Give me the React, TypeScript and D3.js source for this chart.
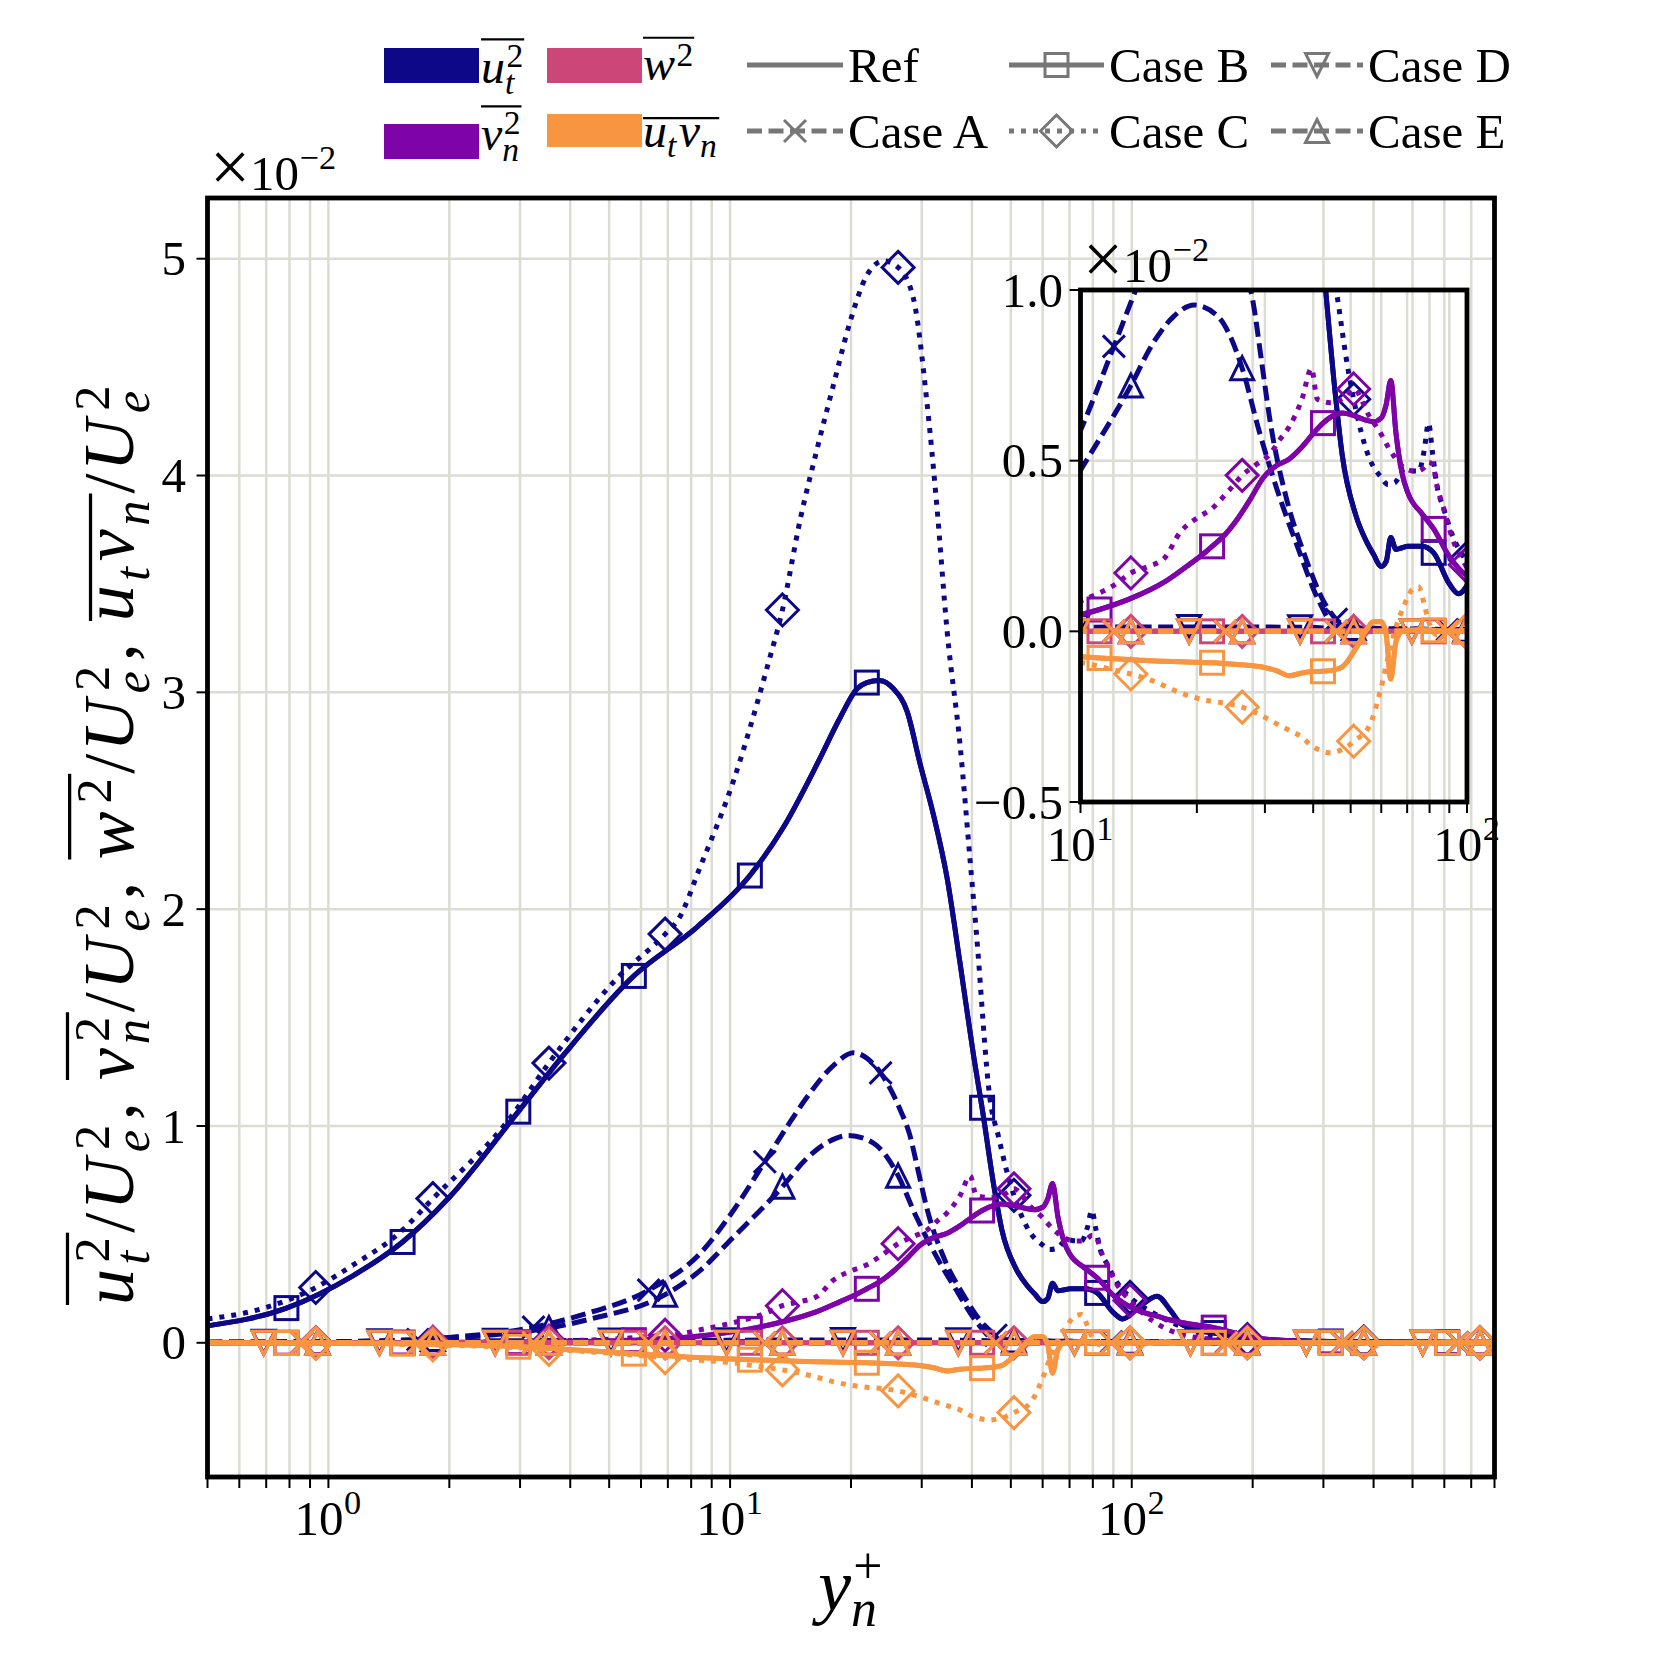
import React from 'react';
import * as d3 from 'd3';

// ---------------- DATA (values in units of 1e-2) ----------------
// Ref and Case B (same profile)
const caseBYPlus = [0.5, 0.786, 1.15, 1.53, 2.0, 2.97, 3.86, 5.76, 8.3, 11.2, 13.6, 16.5, 18.8, 20.7, 21.9, 23.5, 25.5, 27.6, 29.7, 32.1, 34.7, 37.4, 40.4, 42.4, 45.6, 47.5, 51.6, 55, 57.2, 60, 61.8, 63.5, 65.5, 68, 70.3, 76.4, 82, 89.9, 95, 105, 115.6, 124.8, 132, 145, 160, 200, 250, 313, 450, 610, 800];
const caseBUt2 = [0.078, 0.16, 0.309, 0.465, 0.671, 1.066, 1.33, 1.692, 1.92, 2.155, 2.38, 2.672, 2.884, 3.017, 3.045, 3.055, 3.017, 2.911, 2.672, 2.434, 2.143, 1.746, 1.322, 1.084, 0.698, 0.52, 0.339, 0.262, 0.227, 0.19, 0.205, 0.275, 0.24, 0.245, 0.249, 0.249, 0.23, 0.14, 0.11, 0.17, 0.215, 0.15, 0.09, 0.06, 0.045, 0.02, 0.01, 0.006, 0.004, 0.003, 0.002];
const caseBVn2 = [0, 0, 0, 0.001, 0.001, 0.003, 0.005, 0.012, 0.03, 0.064, 0.098, 0.145, 0.19, 0.225, 0.249, 0.28, 0.33, 0.39, 0.45, 0.485, 0.505, 0.54, 0.585, 0.61, 0.635, 0.64, 0.63, 0.618, 0.614, 0.625, 0.665, 0.735, 0.58, 0.46, 0.406, 0.345, 0.3, 0.22, 0.185, 0.145, 0.123, 0.105, 0.095, 0.082, 0.07, 0.025, 0.008, 0.004, 0.002, 0.001, 0];
const caseBW2 = [0, 0, 0, 0, 0, 0, 0, 0, 0, 0, 0, 0, 0, 0, 0, 0, 0, 0, 0, 0, 0, 0, 0, 0, 0, 0, 0, 0, 0, 0, 0, 0, 0, 0, 0, 0, 0, 0, 0, 0, 0, 0, 0, 0, 0, 0, 0, 0, 0, 0, 0];
const caseBUtvn = [0, -0.001, -0.002, -0.004, -0.008, -0.018, -0.03, -0.05, -0.068, -0.078, -0.083, -0.088, -0.09, -0.091, -0.092, -0.094, -0.097, -0.1, -0.105, -0.115, -0.13, -0.122, -0.118, -0.117, -0.112, -0.105, -0.05, 0.005, 0.028, 0.028, -0.01, -0.14, -0.03, 0, 0.003, 0.005, 0.003, 0, 0, 0, 0, 0, 0, 0, 0, 0, 0, 0, 0, 0, 0];
const caseBMarkerYPlus = [0.786, 1.53, 2.97, 5.76, 11.2, 21.9, 42.4, 82, 160, 313, 610];

// Case A
const caseAYPlus = [0.5, 0.86, 1.0, 1.67, 2.0, 3.24, 4.3, 6.27, 8.5, 10.1, 12.2, 13.9, 15.5, 18.1, 20.3, 22, 23.7, 26.5, 28, 29.5, 30.9, 34.2, 37.9, 42.9, 45.9, 50, 89, 172, 334, 648, 800];
const caseAUt2 = [0, 0.002, 0.004, 0.015, 0.025, 0.072, 0.13, 0.243, 0.42, 0.6, 0.835, 1.0, 1.13, 1.28, 1.338, 1.31, 1.245, 1.076, 0.96, 0.78, 0.62, 0.384, 0.227, 0.081, 0.035, 0.012, 0.005, 0.003, 0.002, 0.001, 0.001];
const caseAVn2 = [0, 0, 0, 0, 0, 0, 0, 0, 0, 0, 0, 0, 0, 0, 0, 0, 0, 0, 0, 0, 0, 0, 0, 0, 0, 0, 0, 0, 0, 0, 0];
const caseAW2 = [0, 0, 0, 0, 0, 0, 0, 0, 0, 0, 0, 0, 0, 0, 0, 0, 0, 0, 0, 0, 0, 0, 0, 0, 0, 0, 0, 0, 0, 0, 0];
const caseAUtvn = [0, 0, 0, 0, 0, 0, 0, 0, 0, 0, 0, 0, 0, 0, 0, 0, 0, 0, 0, 0, 0, 0, 0, 0, 0, 0, 0, 0, 0, 0, 0];
const caseAMarkerYPlus = [0.86, 1.67, 3.24, 6.27, 12.2, 23.7, 45.9, 89, 172, 334, 648];

// Case C
const caseCYPlus = [0.5, 0.667, 0.93, 1.15, 1.5, 1.82, 2.78, 3.54, 5.2, 6.89, 7.45, 8.43, 10.2, 12.4, 13.5, 14.96, 16.5, 18.1, 19.9, 21.9, 24.1, 26.2, 28.6, 30.9, 32.7, 34.7, 37.4, 39.6, 41, 44.4, 46.6, 48.7, 50.9, 55.9, 59.8, 62.5, 65, 69, 72.5, 75, 77.5, 79.5, 81.5, 83.5, 87, 91.8, 99, 113, 132, 151, 194, 280, 378, 550, 736, 800];
const caseCUt2 = [0.11, 0.152, 0.255, 0.358, 0.506, 0.665, 1.017, 1.29, 1.676, 1.885, 1.956, 2.196, 2.593, 3.123, 3.38, 3.8, 4.129, 4.42, 4.71, 4.923, 4.99, 4.96, 4.817, 4.34, 3.864, 3.282, 2.752, 2.222, 1.9, 1.12, 0.95, 0.8, 0.68, 0.507, 0.453, 0.43, 0.435, 0.476, 0.47, 0.47, 0.53, 0.61, 0.52, 0.43, 0.36, 0.28, 0.21, 0.138, 0.077, 0.04, 0.015, 0.006, 0.004, 0.002, 0.001, 0.001];
const caseCVn2 = [0, 0, 0, 0.001, 0.001, 0.002, 0.004, 0.008, 0.018, 0.035, 0.04, 0.06, 0.093, 0.14, 0.171, 0.19, 0.215, 0.29, 0.33, 0.36, 0.41, 0.457, 0.49, 0.519, 0.56, 0.6, 0.68, 0.77, 0.68, 0.67, 0.676, 0.69, 0.71, 0.63, 0.58, 0.54, 0.51, 0.478, 0.47, 0.47, 0.48, 0.495, 0.49, 0.43, 0.36, 0.27, 0.195, 0.1, 0.04, 0.02, 0.01, 0, 0, 0, 0, 0];
const caseCW2 = [0, 0, 0, 0, 0, 0, 0, 0, 0, 0, 0, 0, 0, 0, 0, 0, 0, 0, 0, 0, 0, 0, 0, 0, 0, 0, 0, 0, 0, 0, 0, 0, 0, 0, 0, 0, 0, 0, 0, 0, 0, 0, 0, 0, 0, 0, 0, 0, 0, 0, 0, 0, 0, 0, 0, 0];
const caseCUtvn = [0, -0.001, -0.003, -0.004, -0.007, -0.01, -0.02, -0.03, -0.05, -0.068, -0.072, -0.08, -0.093, -0.115, -0.125, -0.14, -0.16, -0.18, -0.195, -0.205, -0.212, -0.222, -0.24, -0.26, -0.275, -0.29, -0.31, -0.335, -0.345, -0.356, -0.35, -0.34, -0.322, -0.277, -0.17, -0.075, 0, 0.08, 0.125, 0.13, 0.08, 0.03, 0, -0.01, -0.005, 0, 0, 0, 0, 0, 0, 0, 0, 0, 0, 0];
const caseCMarkerYPlus = [0.93, 1.82, 3.54, 6.89, 13.5, 26.2, 50.9, 99, 194, 378, 736];

// Case D
const caseDYPlus = [0.5, 0.69, 1.34, 2.6, 5.05, 9.8, 19.1, 37, 45, 50, 72, 140, 272, 530, 800];
const caseDUt2 = [0.004, 0.005, 0.007, 0.009, 0.011, 0.012, 0.013, 0.012, 0.008, 0.003, 0.001, 0.001, 0, 0, 0];
const caseDVn2 = [0, 0, 0, 0, 0, 0, 0, 0, 0, 0, 0, 0, 0, 0, 0];
const caseDW2 = [0, 0, 0, 0, 0, 0, 0, 0, 0, 0, 0, 0, 0, 0, 0];
const caseDUtvn = [0, 0, 0, 0, 0, 0, 0, 0, 0, 0, 0, 0, 0, 0, 0];
const caseDMarkerYPlus = [0.69, 1.34, 2.6, 5.05, 9.8, 19.1, 37, 72, 140, 272, 530];

// Case E
const caseEYPlus = [0.5, 0.94, 1.82, 2.5, 3.54, 4.5, 6.89, 8.5, 10.1, 13.5, 15.4, 17.4, 19.7, 22.7, 24.5, 26.2, 29, 32.2, 36.4, 41.2, 45.6, 50.9, 99, 194, 378, 736, 800];
const caseEUt2 = [0, 0.003, 0.018, 0.035, 0.068, 0.11, 0.222, 0.34, 0.48, 0.72, 0.844, 0.922, 0.956, 0.922, 0.86, 0.771, 0.586, 0.418, 0.249, 0.093, 0.016, 0.01, 0.005, 0.003, 0.002, 0.001, 0.001];
const caseEVn2 = [0, 0, 0, 0, 0, 0, 0, 0, 0, 0, 0, 0, 0, 0, 0, 0, 0, 0, 0, 0, 0, 0, 0, 0, 0, 0, 0];
const caseEW2 = [0, 0, 0, 0, 0, 0, 0, 0, 0, 0, 0, 0, 0, 0, 0, 0, 0, 0, 0, 0, 0, 0, 0, 0, 0, 0, 0];
const caseEUtvn = [0, 0, 0, 0, 0, 0, 0, 0, 0, 0, 0, 0, 0, 0, 0, 0, 0, 0, 0, 0, 0, 0, 0, 0, 0, 0, 0];
const caseEMarkerYPlus = [0.94, 1.82, 3.54, 6.89, 13.5, 26.2, 50.9, 99, 194, 378, 736];

// Ticks
const mainYTicks = [0, 1, 2, 3, 4, 5];
const mainXMajorTicks = [1, 10, 100];
const mainXMajorExp = ['0', '1', '2'];
const insetYTicks = [-0.5, 0, 0.5, 1.0];
const insetYTickLabels = ['\u22120.5', '0.0', '0.5', '1.0'];
const insetXMajorTicks = [10, 100];
const insetXMajorExp = ['1', '2'];

const quantities = ['ut2', 'vn2', 'w2', 'utvn'] as const;
type Q = typeof quantities[number];
const quantityColors: Record<Q, string> = { ut2: '#0d0887', vn2: '#7e03a8', w2: '#cc4778', utvn: '#f89540' };

type Style = 'solid' | 'dashed' | 'dotted';
type MarkerType = 's' | 'D' | 'x' | 'v' | '^' | null;
interface CaseDef { name: string; style: Style; marker: MarkerType; grid: number[]; values: Record<Q, number[]>; markers: number[]; }

const cases: CaseDef[] = [
  { name: 'Ref', style: 'solid', marker: null, grid: caseBYPlus, values: { ut2: caseBUt2, vn2: caseBVn2, w2: caseBW2, utvn: caseBUtvn }, markers: [] },
  { name: 'Case A', style: 'dashed', marker: 'x', grid: caseAYPlus, values: { ut2: caseAUt2, vn2: caseAVn2, w2: caseAW2, utvn: caseAUtvn }, markers: caseAMarkerYPlus },
  { name: 'Case B', style: 'solid', marker: 's', grid: caseBYPlus, values: { ut2: caseBUt2, vn2: caseBVn2, w2: caseBW2, utvn: caseBUtvn }, markers: caseBMarkerYPlus },
  { name: 'Case C', style: 'dotted', marker: 'D', grid: caseCYPlus, values: { ut2: caseCUt2, vn2: caseCVn2, w2: caseCW2, utvn: caseCUtvn }, markers: caseCMarkerYPlus },
  { name: 'Case D', style: 'dashed', marker: 'v', grid: caseDYPlus, values: { ut2: caseDUt2, vn2: caseDVn2, w2: caseDW2, utvn: caseDUtvn }, markers: caseDMarkerYPlus },
  { name: 'Case E', style: 'dashed', marker: '^', grid: caseEYPlus, values: { ut2: caseEUt2, vn2: caseEVn2, w2: caseEW2, utvn: caseEUtvn }, markers: caseEMarkerYPlus },
];

// ---------------- helpers ----------------
const FONT = '"Liberation Serif", "Times New Roman", serif';
const LW = 5;
const MSW = 3;
const GRID = '#dcdcd4';

let _ctx: CanvasRenderingContext2D | null = null;
function textWidth(t: string, size: number, italic: boolean): number {
  if (!_ctx && typeof document !== 'undefined') _ctx = document.createElement('canvas').getContext('2d');
  if (!_ctx) return t.length * size * 0.5;
  _ctx.font = `${italic ? 'italic ' : ''}${size}px "Liberation Serif"`;
  return _ctx.measureText(t).width;
}

interface Piece { t: string; it?: boolean; sup?: string; sub?: string; ov?: 'start' | 'end' | 'both'; scale?: number; dy?: number; }

function MathText(props: { x: number; y: number; size: number; pieces: Piece[]; anchor?: 'start' | 'middle' | 'end'; rotate?: number; targetWidth?: number; supShift?: number; color?: string }) {
  const { x, y, size: S, pieces, anchor = 'start', rotate = 0, targetWidth, color = '#000' } = props;
  const items: { x: number; y: number; t: string; size: number; it: boolean }[] = [];
  const lines: { x1: number; x2: number; y: number }[] = [];
  let cx = 0; let ovStart = 0; let ovTop = 0;
  for (const p of pieces) {
    const PS = S * (p.scale ?? 1);
    if (p.ov === 'start' || p.ov === 'both') { ovStart = cx; ovTop = 0; }
    items.push({ x: cx, y: (p.dy ?? 0) * S, t: p.t, size: PS, it: !!p.it });
    cx += textWidth(p.t, PS, !!p.it);
    let top = /[A-Z0-9]/.test(p.t) ? 0.68 + 0.13 : 0.46 + 0.13;
    if (p.sup || p.sub) {
      const s2 = S * 0.7;
      const ox = cx + (p.it ? 0.03 * S : 0.01 * S);
      let ww = 0;
      if (p.sup) {
        const sh = (props.supShift ?? (p.sub ? 0.33 : 0.3)) * S;
        items.push({ x: ox, y: -sh, t: p.sup, size: s2, it: false });
        ww = Math.max(ww, textWidth(p.sup, s2, false));
        top = Math.max(top, sh / S + 0.48 + 0.1);
      }
      if (p.sub) {
        items.push({ x: ox - (p.it ? 0.03 * S : 0), y: 0.22 * S, t: p.sub, size: s2, it: true });
        ww = Math.max(ww, textWidth(p.sub, s2, true));
      }
      cx = ox + ww + 0.02 * S;
    }
    ovTop = Math.max(ovTop, top);
    if (p.ov === 'end' || p.ov === 'both') lines.push({ x1: ovStart, x2: cx, y: -ovTop * S });
  }
  const k = targetWidth ? Math.min(1.3, Math.max(0.9, targetWidth / cx)) : 1;
  const W = cx * k;
  const off = anchor === 'middle' ? -W / 2 : anchor === 'end' ? -W : 0;
  return (
    <g transform={`translate(${x},${y}) rotate(${rotate})`}>
      <text fontFamily={FONT} fill={color} style={{ whiteSpace: 'pre' }}>
        {items.map((it, i) => (
          <tspan key={i} x={it.x * k + off} y={it.y} fontSize={it.size} fontStyle={it.it ? 'italic' : 'normal'}>{it.t}</tspan>
        ))}
      </text>
      {lines.map((l, i) => (
        <line key={'l' + i} x1={l.x1 * k + off} x2={l.x2 * k + off} y1={l.y} y2={l.y} stroke={color} strokeWidth={S * 0.045} />
      ))}
    </g>
  );
}

function Marker({ type, x, y, color }: { type: MarkerType; x: number; y: number; color: string }) {
  const sw = MSW;
  if (type === 's') return <rect x={x - 11.5} y={y - 11.5} width={23} height={23} fill="none" stroke={color} strokeWidth={sw} />;
  if (type === 'D') { const r = 16; return <polygon points={`${x},${y - r} ${x + r},${y} ${x},${y + r} ${x - r},${y}`} fill="none" stroke={color} strokeWidth={sw} strokeLinejoin="miter" />; }
  if (type === '^') { const h = 11.5; return <polygon points={`${x},${y - h} ${x + h},${y + h} ${x - h},${y + h}`} fill="none" stroke={color} strokeWidth={sw} />; }
  if (type === 'v') { const h = 11.5; return <polygon points={`${x},${y + h} ${x + h},${y - h} ${x - h},${y - h}`} fill="none" stroke={color} strokeWidth={sw} />; }
  if (type === 'x') { const h = 11; return <g stroke={color} strokeWidth={sw}><line x1={x - h} y1={y - h} x2={x + h} y2={y + h} /><line x1={x - h} y1={y + h} x2={x + h} y2={y - h} /></g>; }
  return null;
}

function dashFor(style: Style): string | undefined {
  if (style === 'dashed') return '15 6.5';
  if (style === 'dotted') return `${LW} 7`;
  return undefined;
}

function SeriesLayer({ xs, ys, clipId }: { xs: d3.ScaleLogarithmic<number, number>; ys: d3.ScaleLinear<number, number>; clipId: string }) {
  const out: React.ReactNode[] = [];
  quantities.forEach((q) => {
    cases.forEach((c) => {
      const vals = c.values[q];
      const pts: [number, number][] = c.grid.map((g, i) => [g, vals[i]]);
      const line = d3.line<[number, number]>().x((d) => xs(d[0])).y((d) => ys(d[1])).curve(d3.curveMonotoneX);
      const color = quantityColors[q];
      out.push(
        <path key={`${q}-${c.name}`} d={line(pts) || ''} fill="none" stroke={color} strokeWidth={LW} strokeDasharray={dashFor(c.style)} strokeLinecap="butt" strokeLinejoin="round" />
      );
      c.markers.forEach((m, j) => {
        const idx = c.grid.indexOf(m);
        if (idx < 0) return;
        out.push(<Marker key={`${q}-${c.name}-m${j}`} type={c.marker} x={xs(m)} y={ys(vals[idx])} color={color} />);
      });
    });
  });
  return <g clipPath={`url(#${clipId})`}>{out}</g>;
}

// ---------------- component ----------------
export default function App() {
  const L = 207.5, R = 1494.5, T = 198, B = 1477;
  const x = d3.scaleLog().domain([0.5, 800]).range([L, R]);
  const y = d3.scaleLinear().domain([-0.619, 5.28]).range([B, T]);
  const iL = 1080.5, iR = 1467, iT = 290, iB = 802;
  const xi = d3.scaleLog().domain([10, 100]).range([iL, iR]);
  const yi = d3.scaleLinear().domain([-0.5, 1.0]).range([iB, iT]);

  const xGridTicks = x.ticks();
  const xiGridTicks = xi.ticks();
  const TS = 49; // tick font size

  const yLabelPieces: Piece[] = [
    { t: 'u', it: true, sub: 't', sup: '2', ov: 'both' }, { t: '/' }, { t: 'U', it: true, sub: 'e', sup: '2' }, { t: ', ' },
    { t: 'v', it: true, sub: 'n', sup: '2', ov: 'both' }, { t: '/' }, { t: 'U', it: true, sub: 'e', sup: '2' }, { t: ', ' },
    { t: 'w', it: true, sup: '2', ov: 'both' }, { t: '/' }, { t: 'U', it: true, sub: 'e', sup: '2' }, { t: ', ' },
    { t: 'u', it: true, sub: 't', ov: 'start' }, { t: 'v', it: true, sub: 'n', ov: 'end' }, { t: '/' }, { t: 'U', it: true, sub: 'e', sup: '2' },
  ];
  const offsetPieces: Piece[] = [{ t: '\u00d7', scale: 1.45, dy: 0.02 }, { t: '10', sup: '\u22122' }];

  const legendPatches = [
    { color: quantityColors.ut2, x: 384, y: 48, h: 35, lx: 481, ly: 83, pieces: [{ t: 'u', it: true, sub: 't', sup: '2', ov: 'both' }] as Piece[] },
    { color: quantityColors.vn2, x: 384, y: 124, h: 35, lx: 481, ly: 150, pieces: [{ t: 'v', it: true, sub: 'n', sup: '2', ov: 'both' }] as Piece[] },
    { color: quantityColors.w2, x: 547, y: 48, h: 35, lx: 643, ly: 80, pieces: [{ t: 'w', it: true, sup: '2', ov: 'both' }] as Piece[] },
    { color: quantityColors.utvn, x: 547, y: 114, h: 33, lx: 643, ly: 146.5, pieces: [{ t: 'u', it: true, sub: 't', ov: 'start' }, { t: 'v', it: true, sub: 'n', ov: 'end' }] as Piece[] },
  ];
  const legendLines: { name: string; x1: number; x2: number; y: number; style: Style; marker: MarkerType }[] = [
    { name: 'Ref', x1: 747, x2: 843, y: 65, style: 'solid', marker: null },
    { name: 'Case A', x1: 747, x2: 843, y: 131, style: 'dashed', marker: 'x' },
    { name: 'Case B', x1: 1009, x2: 1104, y: 65, style: 'solid', marker: 's' },
    { name: 'Case C', x1: 1009, x2: 1104, y: 131, style: 'dotted', marker: 'D' },
    { name: 'Case D', x1: 1271, x2: 1363, y: 65, style: 'dashed', marker: 'v' },
    { name: 'Case E', x1: 1271, x2: 1363, y: 131, style: 'dashed', marker: '^' },
  ];
  const GRAY = '#777777';

  return (
    <svg width={1661} height={1661} style={{ position: 'absolute', left: 0, top: 0 }} xmlns="http://www.w3.org/2000/svg">
      <defs>
        <clipPath id="mainClip"><rect x={L} y={T} width={R - L} height={B - T} /></clipPath>
        <clipPath id="insetClip"><rect x={iL} y={iT} width={iR - iL} height={iB - iT} /></clipPath>
      </defs>
      <rect x={0} y={0} width={1661} height={1661} fill="#fff" />

      {/* main grid */}
      <g stroke={GRID} strokeWidth={2.5}>
        {xGridTicks.map((v, i) => <line key={'gx' + i} x1={x(v)} x2={x(v)} y1={T} y2={B} />)}
        {mainYTicks.map((v, i) => <line key={'gy' + i} x1={L} x2={R} y1={y(v)} y2={y(v)} />)}
      </g>

      <SeriesLayer xs={x} ys={y} clipId="mainClip" />

      {/* main ticks */}
      <g stroke="#000" strokeWidth={2}>
        {xGridTicks.map((v, i) => <line key={'tx' + i} x1={x(v)} x2={x(v)} y1={B} y2={B + 11} />)}
        {mainYTicks.map((v, i) => <line key={'ty' + i} x1={L - 11} x2={L} y1={y(v)} y2={y(v)} />)}
      </g>
      <rect x={L} y={T} width={R - L} height={B - T} fill="none" stroke="#000" strokeWidth={4.8} />

      {mainYTicks.map((v, i) => (
        <text key={'yl' + i} x={186} y={y(v) + 0.338 * TS} fontSize={TS} fontFamily={FONT} textAnchor="end">{String(v)}</text>
      ))}
      {mainXMajorTicks.map((v, i) => (
        <MathText key={'xl' + i} x={x(v)} y={1535} size={TS} anchor="middle" supShift={0.42} pieces={[{ t: '10', sup: mainXMajorExp[i] }]} />
      ))}
      <MathText x={210} y={190} size={TS} supShift={0.42} pieces={offsetPieces} />

      {/* axis labels */}
      <MathText x={851} y={1610} size={74} anchor="middle" supShift={0.37} pieces={[{ t: 'y', it: true, sub: 'n', sup: '+' }]} />
      <MathText x={133} y={843} size={72} anchor="middle" rotate={-90} targetWidth={924} pieces={yLabelPieces} />

      {/* inset */}
      <g stroke={GRID} strokeWidth={2.5}>
        {xiGridTicks.map((v, i) => <line key={'igx' + i} x1={xi(v)} x2={xi(v)} y1={iT} y2={iB} />)}
        {insetYTicks.map((v, i) => <line key={'igy' + i} x1={iL} x2={iR} y1={yi(v)} y2={yi(v)} />)}
      </g>
      <SeriesLayer xs={xi} ys={yi} clipId="insetClip" />
      <g stroke="#000" strokeWidth={2}>
        {xiGridTicks.map((v, i) => <line key={'itx' + i} x1={xi(v)} x2={xi(v)} y1={iB} y2={iB + 11} />)}
        {insetYTicks.map((v, i) => <line key={'ity' + i} x1={iL - 11} x2={iL} y1={yi(v)} y2={yi(v)} />)}
      </g>
      <rect x={iL} y={iT} width={iR - iL} height={iB - iT} fill="none" stroke="#000" strokeWidth={4.8} />
      {insetYTicks.map((v, i) => (
        <text key={'iyl' + i} x={1063} y={yi(v) + 0.338 * TS} fontSize={TS} fontFamily={FONT} textAnchor="end">{insetYTickLabels[i]}</text>
      ))}
      {insetXMajorTicks.map((v, i) => (
        <MathText key={'ixl' + i} x={xi(v)} y={861} size={TS} anchor="middle" supShift={0.42} pieces={[{ t: '10', sup: insetXMajorExp[i] }]} />
      ))}
      <MathText x={1083} y={282} size={TS} supShift={0.42} pieces={offsetPieces} />

      {/* legend */}
      {legendPatches.map((p, i) => (
        <g key={'lp' + i}>
          <rect x={p.x} y={p.y} width={95} height={p.h} fill={p.color} />
          <MathText x={p.lx} y={p.ly} size={48} pieces={p.pieces} />
        </g>
      ))}
      {legendLines.map((l, i) => (
        <g key={'ll' + i}>
          <line x1={l.x1} x2={l.x2} y1={l.y} y2={l.y} stroke={GRAY} strokeWidth={LW} strokeDasharray={dashFor(l.style)} />
          {l.marker && <Marker type={l.marker} x={(l.x1 + l.x2) / 2} y={l.y} color={GRAY} />}
          <text x={l.x2 + 5} y={l.y + 17} fontSize={49} fontFamily={FONT}>{l.name}</text>
        </g>
      ))}
    </svg>
  );
}
